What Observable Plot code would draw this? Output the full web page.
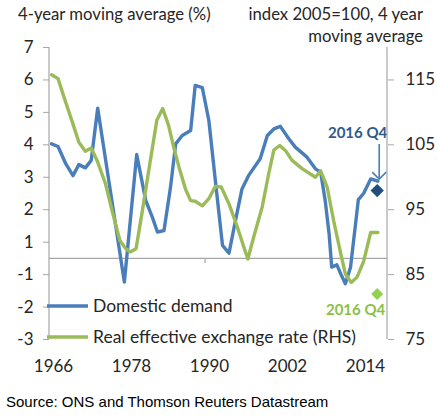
<!DOCTYPE html>
<html><head><meta charset="utf-8">
<script src="https://cdn.jsdelivr.net/npm/d3@7"></script>
<script src="https://cdn.jsdelivr.net/npm/@observablehq/plot@0.6"></script>
<style>
body{margin:0;background:#fff;}
#chart svg{display:block;}
#caption{font-family:"Liberation Sans",Arial,sans-serif;font-size:15px;color:#000;padding:12px 0 0 6px;line-height:20px;}
</style></head><body>
<div id="chart"></div>
<div id="caption">Source: ONS and Thomson Reuters Datastream</div>
<script>
// Domestic demand, 4-year moving average (%), left axis
const demandYears = [1965.7,1966.7,1967.9,1969.0,1969.9,1970.9,1971.8,1972.8,1976.9,1978.8,1980.2,1981.2,1982.0,1983.0,1984.0,1984.8,1985.8,1987.1,1987.8,1988.9,1989.9,1990.9,1992.0,1993.0,1994.0,1995.0,1996.0,1997.8,1998.9,1999.9,2000.9,2002.2,2003.2,2005.0,2006.3,2007.1,2007.8,2008.4,2008.8,2009.6,2010.2,2010.9,2011.7,2012.9,2013.7,2014.8,2015.9];
const demandValues = [3.53,3.45,2.91,2.55,2.89,2.79,3.02,4.63,-0.73,3.2,1.78,1.27,0.81,0.86,2.19,3.53,3.79,3.94,5.33,5.26,4.25,2.4,0.4,0.16,1.17,2.14,2.55,3.07,3.79,3.99,4.07,3.69,3.43,3.12,2.76,2.66,1.78,0.76,-0.27,-0.2,-0.48,-0.78,-0.27,1.81,2.0,2.45,2.38];
// Real effective exchange rate, index 2005=100, 4-year moving average, right axis
const reerYears = [1965.7,1966.7,1967.8,1968.9,1969.9,1970.9,1971.8,1972.7,1974.0,1975.0,1976.2,1977.1,1977.8,1978.7,1979.6,1980.9,1981.9,1982.8,1983.7,1984.5,1985.3,1986.3,1987.1,1987.8,1988.9,1989.9,1990.9,1991.8,1993.0,1994.3,1995.2,1995.9,1996.8,1998.1,1999.1,1999.9,2000.8,2001.7,2002.7,2004.3,2006.3,2007.1,2008.1,2009.1,2010.2,2010.9,2011.8,2012.7,2013.7,2014.8,2015.9];
const reerValues = [115.8,115.2,111.8,108.5,105.4,104.0,104.5,102.6,99.0,94.9,90.3,89.0,88.5,89.0,94.4,102.6,108.8,110.6,108.0,104.6,101.6,98.2,96.4,96.3,95.6,96.7,98.6,98.5,95.9,92.3,89.5,87.4,90.8,95.4,100.5,104.2,104.9,104.1,102.6,101.3,100.0,101.0,98.5,93.3,88.2,85.1,83.8,84.6,87.0,91.5,91.5];
// 2016 Q4 markers
const q4Year = [2015.8];
const q4Demand = [2.09];
const q4Reer = [82.0];
const q4Label = "2016 Q4";
// Axes
const leftDomain = [-2.5, 6.5];
const rhsDomain = [75, 120];
const leftTickValues = [6.5,5.5,4.5,3.5,2.5,1.5,0.5,-0.5,-1.5,-2.5];
const leftTickLabels = ["7","6","5","4","3","2","1","-1","-2","-3"];
const rhsTickValues = [75,85,95,105,115];
const xDomain = [1965.385, 2017.385];
const xTickYears = [1966,1978,1990,2002,2014];
const zeroAxisTicks = [1989.4];
const seriesNames = ["Domestic demand","Real effective exchange rate (RHS)"];
const leftTitle = "4-year moving average (%)";
const rightTitle = ["index 2005=100, 4 year","moving average"];

const rhsToLeft = v => leftDomain[0] + (v - rhsDomain[0]) * (leftDomain[1]-leftDomain[0]) / (rhsDomain[1]-rhsDomain[0]);
const leftToRhs = v => rhsDomain[0] + (v - leftDomain[0]) * (rhsDomain[1]-rhsDomain[0]) / (leftDomain[1]-leftDomain[0]);

const blue = "#4A7EBB", green = "#9BBB59", axisGray = "#A6A6A6", textCol = "#262626";
const font = "Lato, 'DejaVu Sans', sans-serif";
const fs = 17;

const demand = demandYears.map((year,i)=>({year, value: demandValues[i]}));
const reer = reerYears.map((year,i)=>({year, value: rhsToLeft(reerValues[i])}));
const q4d = q4Year.map((year,i)=>({year, value: q4Demand[i]}));
const q4r = q4Year.map((year,i)=>({year, value: rhsToLeft(q4Reer[i])}));

const chart = Plot.plot({
  width: 437, height: 380,
  marginTop: 47, marginLeft: 49, marginRight: 50, marginBottom: 41,
  style: {fontFamily: font, fontSize: fs + "px", color: textCol, background: "#fff", overflow: "visible"},
  x: {type: "linear", domain: xDomain},
  y: {type: "linear", domain: leftDomain},
  marks: [
    Plot.ruleY([0], {stroke: axisGray, strokeWidth: 1.2}),
    Plot.axisY({anchor: "left", ticks: leftTickValues, tickFormat: d => leftTickLabels[leftTickValues.indexOf(d)], tickSize: 6, tickPadding: 10, stroke: axisGray, fill: textCol, label: null, fontSize: fs}),
    Plot.axisY({anchor: "right", ticks: rhsTickValues.map(rhsToLeft), tickFormat: d => String(Math.round(leftToRhs(d))), tickSize: 6, tickPadding: 12, stroke: axisGray, fill: textCol, label: null, fontSize: fs}),
    Plot.axisX({ticks: xTickYears, tickFormat: d => String(d), tickSize: 0, tickPadding: 20, fill: textCol, label: null, fontSize: fs}),
    Plot.line(demand, {x: "year", y: "value", stroke: blue, strokeWidth: 3.4, strokeLinejoin: "round"}),
    Plot.line(reer, {x: "year", y: "value", stroke: green, strokeWidth: 3.4, strokeLinejoin: "round"}),
    Plot.dot(q4d, {x: "year", y: "value", symbol: "diamond2", r: 6, fill: "#244D7F", stroke: "none"}),
    Plot.dot(q4r, {x: "year", y: "value", symbol: "diamond2", r: 5.4, fill: "#92D050", stroke: "none"}),
    Plot.text(q4d, {x: "year", y: "value", text: () => q4Label, dx: 10, dy: -57, textAnchor: "end", fill: "#2F5A8C", fontWeight: "bold", fontSize: 15}),
    Plot.text(q4r, {x: "year", y: "value", text: () => q4Label, dx: 8, dy: 16, textAnchor: "end", fill: "#8DBF45", fontWeight: "bold", fontSize: 15})
  ]
});

const svg = d3.select(chart);
const sx = chart.scale("x").apply, sy = chart.scale("y").apply;
const L = 49, R = 387, T = 47, B = 339;
// axis titles
const titles = svg.append("g").attr("font-family", font).attr("font-size", 16.7).attr("fill", textCol);
titles.append("text").attr("x", 18).attr("y", 20).attr("text-anchor", "start").text(leftTitle);
titles.append("text").attr("x", 423).attr("y", 20).attr("text-anchor", "end").text(rightTitle[0]);
titles.append("text").attr("x", 423).attr("y", 42).attr("text-anchor", "end").text(rightTitle[1]);
// axis lines
svg.append("line").attr("x1", L).attr("x2", L).attr("y1", T).attr("y2", B).attr("stroke", axisGray).attr("stroke-width", 1.2);
svg.append("line").attr("x1", R).attr("x2", R).attr("y1", T).attr("y2", B).attr("stroke", axisGray).attr("stroke-width", 1.2);
// category-axis tick on the zero line
zeroAxisTicks.forEach(t => svg.append("line").attr("x1", sx(t)).attr("x2", sx(t)).attr("y1", sy(0)).attr("y2", sy(0) + 5).attr("stroke", axisGray).attr("stroke-width", 1.2));
// arrow pointing to the 2016 Q4 domestic demand marker
const ax = sx(q4Year[0]) + 2.5, ay = sy(q4Demand[0]);
const arrow = svg.append("g").attr("stroke", blue).attr("stroke-width", 1.6).attr("fill", "none");
arrow.append("line").attr("x1", ax).attr("x2", ax).attr("y1", ay - 46).attr("y2", ay - 12);
arrow.append("path").attr("d", `M${ax-7},${ay-18}L${ax},${ay-11}L${ax+7},${ay-18}`);
// legend
const leg = svg.append("g").attr("font-family", font).attr("font-size", 17.5).attr("fill", textCol).attr("text-anchor", "start");
[[blue, 306],[green, 337]].forEach(([c, y], i) => {
  leg.append("line").attr("x1", 47).attr("x2", 88).attr("y1", y).attr("y2", y).attr("stroke", c).attr("stroke-width", 3.4);
  leg.append("text").attr("x", 93).attr("y", y).attr("dy", "0.35em").text(seriesNames[i]);
});
document.getElementById("chart").appendChild(chart);
</script>
</body></html>
